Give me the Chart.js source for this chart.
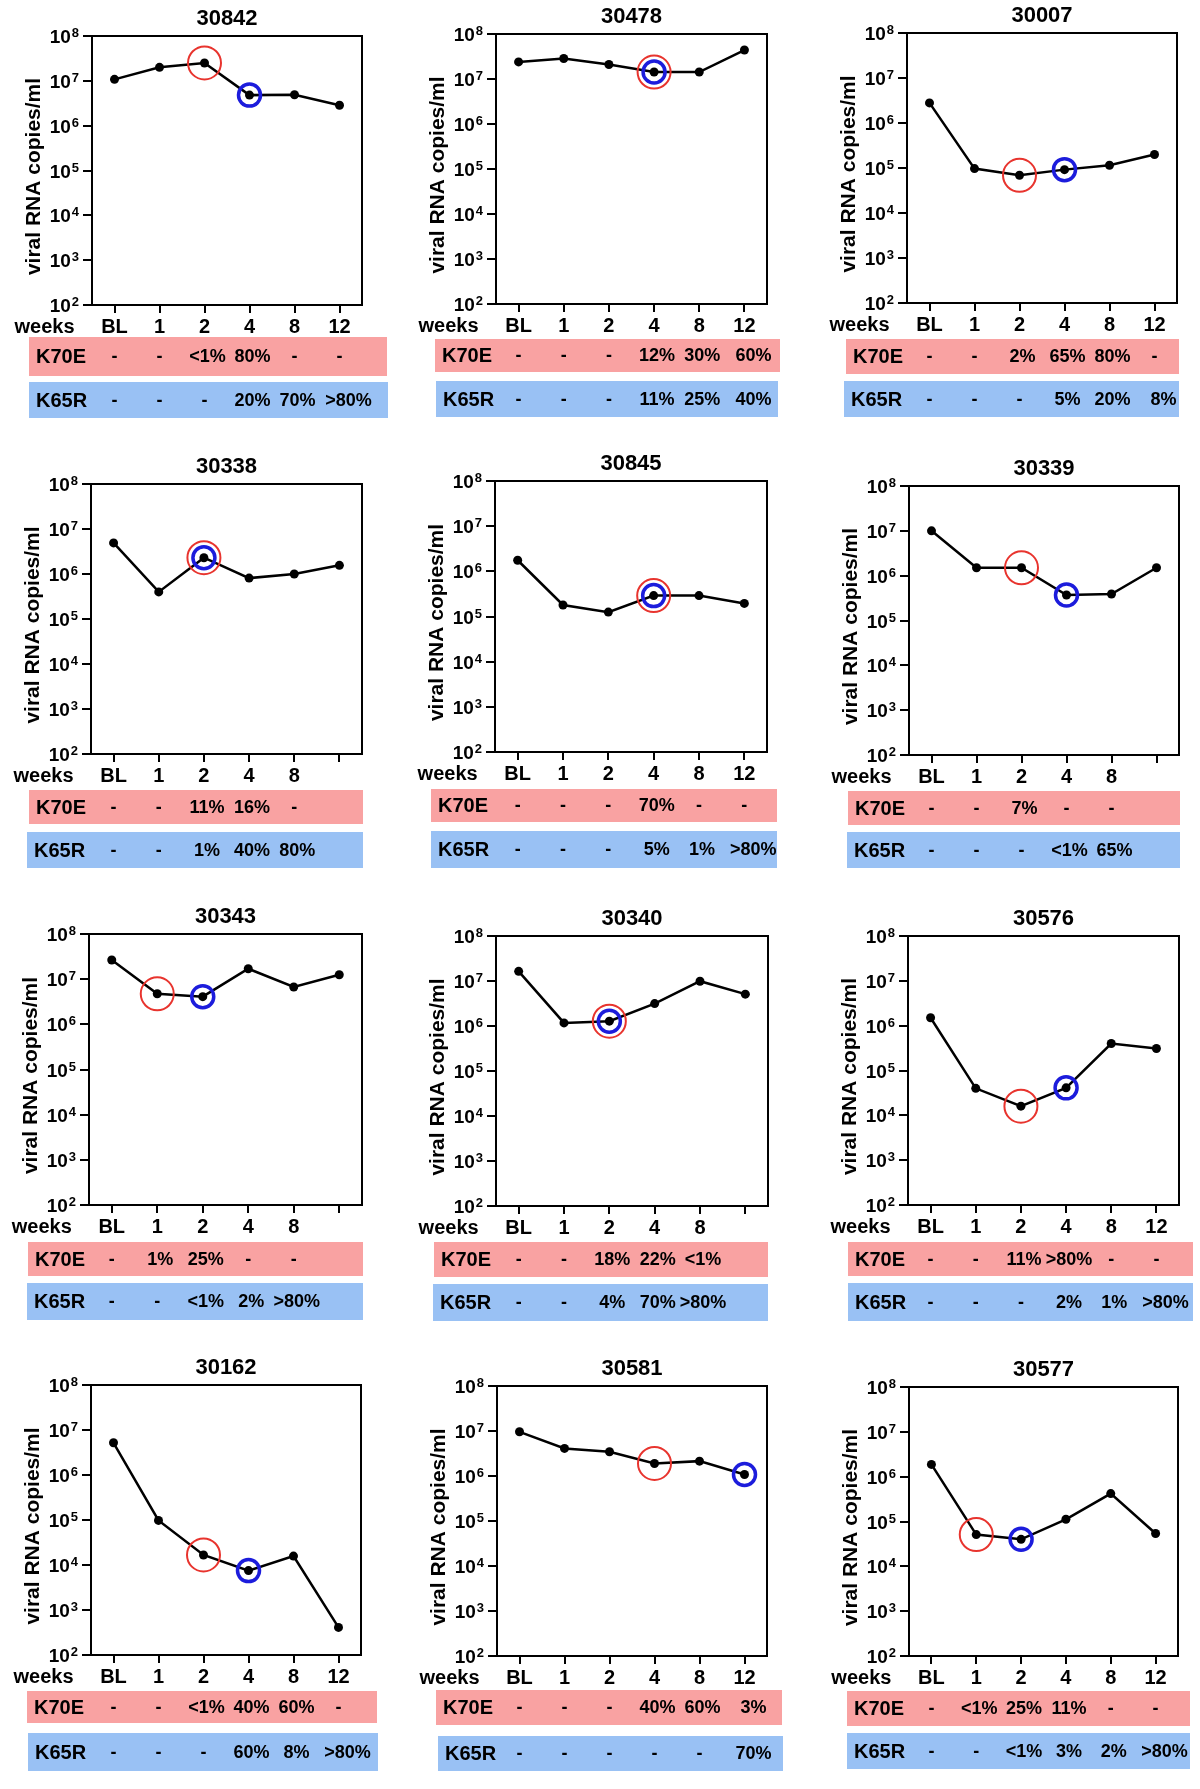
<!DOCTYPE html>
<html><head><meta charset="utf-8">
<script src="https://cdn.jsdelivr.net/npm/chart.js@4.4.1/dist/chart.umd.min.js"></script>
<style>
html,body{margin:0;padding:0;background:#fff;}
#wrap{position:relative;width:1200px;height:1789px;overflow:hidden;background:#fff;}
canvas{position:absolute;}
</style></head><body><div id="wrap"></div>
<script>
// ---------- DATA ----------
const weekLabels = ['BL','1','2','4','8','12'];
const weekLabelsNo12 = ['BL','1','2','4','8',''];
const decadeTicks = [1e2,1e3,1e4,1e5,1e6,1e7,1e8];
const mutationNames = ['K70E','K65R'];

const v30842 = [1.08e7, 2.0e7, 2.5e7, 4.8e6, 4.9e6, 2.85e6];
const v30478 = [2.4e7, 2.85e7, 2.1e7, 1.43e7, 1.43e7, 4.4e7];
const v30007 = [2.8e6, 9.7e4, 6.9e4, 9.2e4, 1.15e5, 2.0e5];
const v30338 = [4.9e6, 4.0e5, 2.3e6, 8.1e5, 1.0e6, 1.56e6];
const v30845 = [1.76e6, 1.8e5, 1.25e5, 2.9e5, 2.9e5, 1.95e5];
const v30339 = [1.0e7, 1.5e6, 1.5e6, 3.7e5, 3.9e5, 1.5e6];
const v30343 = [2.65e7, 4.75e6, 4.1e6, 1.7e7, 6.7e6, 1.25e7];
const v30340 = [1.64e7, 1.17e6, 1.28e6, 3.15e6, 9.9e6, 5.1e6];
const v30576 = [1.5e6, 4.0e4, 1.6e4, 4.1e4, 4.0e5, 3.1e5];
const v30162 = [5.2e6, 9.8e4, 1.67e4, 7.5e3, 1.58e4, 410];
const v30581 = [9.6e6, 4.1e6, 3.46e6, 1.9e6, 2.14e6, 1.08e6];
const v30577 = [1.88e6, 5.1e4, 4.0e4, 1.12e5, 4.2e5, 5.4e4];

// index of the week marked by the red (K70E) and blue (K65R) circles
const k70eMark = [2, 3, 2, 2, 3, 2, 1, 2, 2, 2, 3, 1];
const k65rMark = [3, 3, 3, 2, 3, 3, 2, 2, 3, 3, 5, 2];

const k70e30842 = ['-','-','<1%','80%','-','-'];
const k65r30842 = ['-','-','-','20%','70%','>80%'];
const k70e30478 = ['-','-','-','12%','30%','60%'];
const k65r30478 = ['-','-','-','11%','25%','40%'];
const k70e30007 = ['-','-','2%','65%','80%','-'];
const k65r30007 = ['-','-','-','5%','20%','8%'];
const k70e30338 = ['-','-','11%','16%','-',''];
const k65r30338 = ['-','-','1%','40%','80%',''];
const k70e30845 = ['-','-','-','70%','-','-'];
const k65r30845 = ['-','-','-','5%','1%','>80%'];
const k70e30339 = ['-','-','7%','-','-',''];
const k65r30339 = ['-','-','-','<1%','65%',''];
const k70e30343 = ['-','1%','25%','-','-',''];
const k65r30343 = ['-','-','<1%','2%','>80%',''];
const k70e30340 = ['-','-','18%','22%','<1%',''];
const k65r30340 = ['-','-','4%','70%','>80%',''];
const k70e30576 = ['-','-','11%','>80%','-','-'];
const k65r30576 = ['-','-','-','2%','1%','>80%'];
const k70e30162 = ['-','-','<1%','40%','60%','-'];
const k65r30162 = ['-','-','-','60%','8%','>80%'];
const k70e30581 = ['-','-','-','40%','60%','3%'];
const k65r30581 = ['-','-','-','-','-','70%'];
const k70e30577 = ['-','<1%','25%','11%','-','-'];
const k65r30577 = ['-','-','<1%','3%','2%','>80%'];

const panels = [
  {id:'30842', labels:weekLabels,     values:v30842, k70e:k70e30842, k65r:k65r30842},
  {id:'30478', labels:weekLabels,     values:v30478, k70e:k70e30478, k65r:k65r30478},
  {id:'30007', labels:weekLabels,     values:v30007, k70e:k70e30007, k65r:k65r30007},
  {id:'30338', labels:weekLabelsNo12, values:v30338, k70e:k70e30338, k65r:k65r30338},
  {id:'30845', labels:weekLabels,     values:v30845, k70e:k70e30845, k65r:k65r30845},
  {id:'30339', labels:weekLabelsNo12, values:v30339, k70e:k70e30339, k65r:k65r30339},
  {id:'30343', labels:weekLabelsNo12, values:v30343, k70e:k70e30343, k65r:k65r30343},
  {id:'30340', labels:weekLabelsNo12, values:v30340, k70e:k70e30340, k65r:k65r30340},
  {id:'30576', labels:weekLabels,     values:v30576, k70e:k70e30576, k65r:k65r30576},
  {id:'30162', labels:weekLabels,     values:v30162, k70e:k70e30162, k65r:k65r30162},
  {id:'30581', labels:weekLabels,     values:v30581, k70e:k70e30581, k65r:k65r30581},
  {id:'30577', labels:weekLabels,     values:v30577, k70e:k70e30577, k65r:k65r30577}
];

// ---------- LAYOUT (page pixels) ----------
const rowTops = [0, 445, 895, 1345];
const canvasH = 444;
const plotBoxes = [ // left, top, right, bottom
  [92,36,362,305],[496,34,767,304],[907,33,1177,303],
  [91,484,362,754],[495,481,767,752],[909,486,1179,755],
  [89,934,362,1205],[496,936,768,1206],[908,936,1179,1205],
  [91,1385,361,1655],[497,1386,767,1656],[909,1387,1178,1656]
];
const pinkBoxes = [ // x0,y0,x1,y1
  [29,337,387,376],[435,339,780,372],[846,339,1179,374],
  [29,790,363,824],[431,789,777,822],[848,791,1180,825],
  [28,1242,363,1276],[434,1242,768,1277],[848,1242,1193,1276],
  [27,1691,377,1723],[436,1690,782,1725],[847,1691,1190,1726]
];
const blueBoxes = [
  [29,382,388,418],[436,381,778,417],[844,381,1179,417],
  [27,832,363,868],[431,831,777,868],[847,832,1180,868],
  [27,1283,363,1320],[433,1284,768,1321],[848,1283,1193,1321],
  [28,1733,378,1771],[438,1736,783,1771],[847,1733,1190,1769]
];

const FONT = '"Liberation Sans", Arial, Helvetica, sans-serif';
const PINK = '#f9a2a2';
const BLUE = '#99c1f4';
const RED = '#e8342e';
const DARKBLUE = '#1c1cdc';
const YW = 70, XH = 40;

function makeDecor(p, i, ox, oy){
  return {
    id: 'decor' + i,
    afterDraw(chart){
      const ctx = chart.ctx, a = chart.chartArea;
      const xs = chart.scales.x, ys = chart.scales.y;
      ctx.save();
      // frame
      ctx.strokeStyle = '#000'; ctx.lineWidth = 2;
      ctx.strokeRect(a.left, a.top, a.right - a.left, a.bottom - a.top);
      ctx.fillStyle = '#000';
      // title
      ctx.font = 'bold 22px ' + FONT; ctx.textAlign = 'center'; ctx.textBaseline = 'alphabetic';
      ctx.fillText(p.id, (a.left + a.right) / 2, a.top - 11);
      // y tick labels 10^n
      ys.ticks.forEach(t => {
        const y = ys.getPixelForValue(t.value);
        const e = String(Math.round(Math.log10(t.value)));
        ctx.font = 'bold 13px ' + FONT; ctx.textAlign = 'right';
        const ew = ctx.measureText(e).width;
        const ex = a.left - 13;
        ctx.fillText(e, ex, y + 1);
        ctx.font = 'bold 19px ' + FONT;
        ctx.fillText('10', ex - ew - 1, y + 7);
      });
      // y title
      ctx.save();
      ctx.translate(a.left - 58, (a.top + a.bottom) / 2 + 6);
      ctx.rotate(-Math.PI / 2);
      ctx.font = 'bold 21px ' + FONT; ctx.textAlign = 'center'; ctx.textBaseline = 'middle';
      ctx.fillText('viral RNA copies/ml', 0, 0);
      ctx.restore();
      // weeks
      ctx.font = 'bold 20px ' + FONT; ctx.textAlign = 'right'; ctx.textBaseline = 'middle';
      ctx.fillText('weeks', xs.getPixelForValue(0) - 40, a.bottom + 22);
      // table rows
      const rows = [[pinkBoxes[i], PINK, p.k70e], [blueBoxes[i], BLUE, p.k65r]];
      rows.forEach((r, k) => {
        const b = r[0];
        const x0 = b[0] - ox, y0 = b[1] - oy, x1 = b[2] - ox, y1 = b[3] - oy;
        ctx.fillStyle = r[1];
        ctx.fillRect(x0, y0, x1 - x0, y1 - y0);
        ctx.fillStyle = '#000';
        const cy = (y0 + y1) / 2 + 1;
        ctx.font = 'bold 20px ' + FONT; ctx.textAlign = 'left'; ctx.textBaseline = 'middle';
        ctx.fillText(mutationNames[k], x0 + 7, cy);
        ctx.font = 'bold 18px ' + FONT; ctx.textAlign = 'center';
        const last = r[2].length - 1;
        r[2].forEach((s, j) => {
          if (!s) return;
          let shift = s === '-' ? 0 : 3;
          if (j === last && s !== '-') shift = 9;
          ctx.fillText(s, xs.getPixelForValue(j) + shift, cy);
        });
      });
      ctx.restore();
    }
  };
}

const wrap = document.getElementById('wrap');
panels.forEach((p, i) => {
  const col = i % 3, row = Math.floor(i / 3);
  const ox = col * 400, oy = rowTops[row];
  const cv = document.createElement('canvas');
  cv.width = 400; cv.height = canvasH;
  cv.style.left = ox + 'px'; cv.style.top = oy + 'px';
  cv.style.width = '400px'; cv.style.height = canvasH + 'px';
  wrap.appendChild(cv);
  const [L, T, R, B] = plotBoxes[i];
  const pad = {left: L - ox - YW, top: T - oy, right: ox + 400 - R, bottom: (oy + canvasH) - B - XH};
  const red = p.values.map((v, j) => j === k70eMark[i] ? v : null);
  const blue = p.values.map((v, j) => j === k65rMark[i] ? v : null);
  new Chart(cv, {
    type: 'line',
    data: {
      labels: p.labels,
      datasets: [
        {data: blue, showLine: false, pointRadius: 11, pointHoverRadius: 11, pointBorderWidth: 3.5,
         pointBorderColor: DARKBLUE, pointBackgroundColor: 'rgba(0,0,0,0)', clip: false},
        {data: red, showLine: false, pointRadius: 16.5, pointHoverRadius: 16.5, pointBorderWidth: 2,
         pointBorderColor: RED, pointBackgroundColor: 'rgba(0,0,0,0)', clip: false},
        {data: p.values, borderColor: '#000', borderWidth: 2.5, pointRadius: 4.5, pointHoverRadius: 4.5,
         pointBackgroundColor: '#000', pointBorderColor: '#000', pointBorderWidth: 0, tension: 0, clip: false}
      ]
    },
    options: {
      responsive: false, maintainAspectRatio: false, animation: false, devicePixelRatio: 1,
      layout: {padding: pad},
      plugins: {legend: {display: false}, tooltip: {enabled: false}, title: {display: false}},
      scales: {
        x: {
          type: 'category', offset: true,
          grid: {display: true, drawOnChartArea: false, drawTicks: true, tickLength: 8, offset: false,
                 color: '#000', lineWidth: 2},
          border: {display: true, color: '#000', width: 2},
          ticks: {color: '#000', font: {family: FONT, size: 20, weight: 'bold'}, padding: 2,
                  maxRotation: 0, autoSkip: false},
          afterFit: s => { s.height = XH; }
        },
        y: {
          type: 'logarithmic', min: 1e2, max: 1e8,
          afterBuildTicks: s => { s.ticks = decadeTicks.map(v => ({value: v})); },
          grid: {display: true, drawOnChartArea: false, drawTicks: true, tickLength: 9,
                 color: '#000', lineWidth: 2},
          border: {display: true, color: '#000', width: 2},
          ticks: {display: false},
          afterFit: s => { s.width = YW; }
        }
      }
    },
    plugins: [makeDecor(p, i, ox, oy)]
  });
});
</script></body></html>
